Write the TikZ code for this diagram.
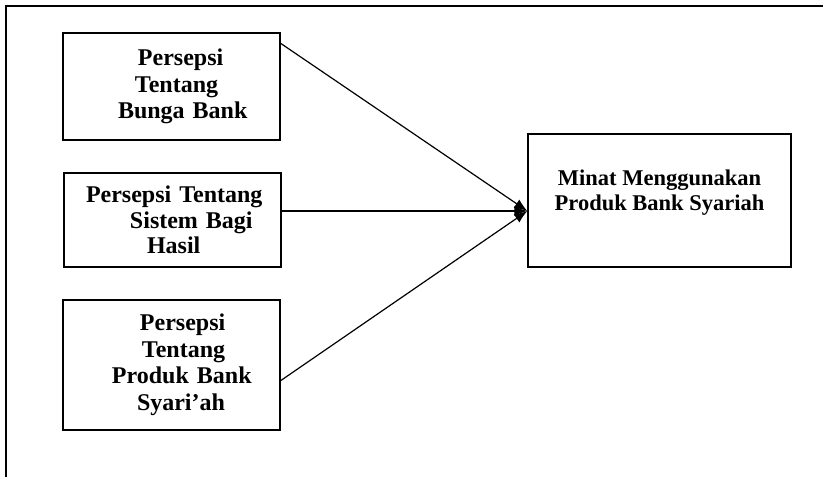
\documentclass[tikz,border=0pt]{standalone}
\usepackage{fontspec}
\setmainfont{Liberation Serif}
\usetikzlibrary{arrows.meta}
\begin{document}
\begin{tikzpicture}[x=1pt, y=-1pt]
	\useasboundingbox (0,0) rectangle (823,479);
	\tikzset{
		varbox/.style={draw=black, line width=1.3pt, minimum width=217pt, text width=217pt, inner xsep=0pt, align=left, font=\fontsize{24}{26.5}\selectfont\bfseries},
		link/.style={line width=1.2pt, -{Latex[length=13pt, width=10pt]}}
	}
	
	% frame
	\draw[line width=2pt] (6,477) -- (6,6) -- (823,6);
	
	\node[varbox, minimum height=107pt] (x1) at (171.5, 86.5) {\hspace*{75pt}Persepsi\\ \hspace*{72pt}Tentang\\ \hspace*{55pt}Bunga Bank};
	\node[varbox, minimum height=94pt, font=\fontsize{24}{25.5}\selectfont\bfseries] (x2) at (172.5, 220) {\hspace*{22pt}Persepsi Tentang\\ \hspace*{66pt}Sistem Bagi\\ \hspace*{83pt}Hasil};
	\node[varbox, minimum height=130pt] (x3) at (171.5, 365) {\hspace*{77pt}Persepsi\\ \hspace*{79pt}Tentang\\ \hspace*{49pt}Produk Bank\\ \hspace*{74pt}Syari'ah};
	
	\node[draw=black, line width=1.3pt, minimum width=263pt, minimum height=133pt] (y) at (659.5, 200.5) {};
	\node[align=center, font=\fontsize{22.5}{25}\selectfont\bfseries] (ytext) at (659.5, 193) {Minat Menggunakan\\ Produk Bank Syariah};
	
	\coordinate (hub) at ([yshift=-10.5pt]y.west);
	
	\draw[link] ([yshift=-11pt]x1.north east) -- (hub);
	\draw[link] ([yshift=9pt]x2.east) -- (hub);
	\draw[link] ([yshift=50pt]x3.south east) -- (hub);

\end{tikzpicture}
\end{document}
